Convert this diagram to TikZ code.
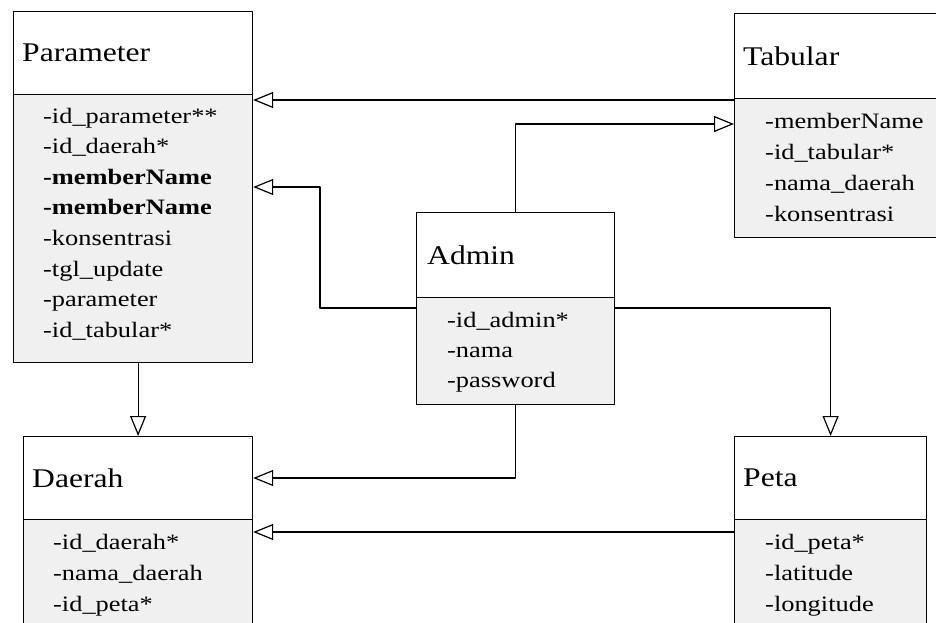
\documentclass[tikz,border=0pt]{standalone}
\usepackage{fontspec}
\setmainfont{Liberation Serif}
\newfontfamily\hdrfont[FakeStretch=1.17]{Liberation Serif}
\newfontfamily\attrfont[FakeStretch=1.2]{Liberation Serif}
\usetikzlibrary{arrows.meta,positioning}
\definecolor{bodygray}{HTML}{F0F0F0}

\begin{document}
\begin{tikzpicture}[x=1pt, y=-1pt, line join=round,
	head/.style={draw, fill=white, line width=1.2pt, anchor=north west, inner sep=0pt},
	body/.style={head, fill=bodygray},
	title/.style={inner sep=0pt, font=\hdrfont\fontsize{27}{27}\selectfont},
	attr/.style={inner sep=0pt, anchor=base west, font=\attrfont\fontsize{22}{22}\selectfont},
	inh/.style={line width=1.2pt, -{Triangle[open, length=20pt, width=16pt]}}]
	\useasboundingbox (0,0) rectangle (936,622);

	% class boxes
	\node[head, minimum width=239pt, minimum height=83pt] (param-head) at (13,11) {};
	\node[body, minimum width=239pt, minimum height=268pt] (param-body) at (13,94) {};
	\node[head, minimum width=215pt, minimum height=85pt] (tab-head) at (734,13) {};
	\node[body, minimum width=215pt, minimum height=139pt] (tab-body) at (734,98) {};
	\node[head, minimum width=198pt, minimum height=85pt] (admin-head) at (416,212) {};
	\node[body, minimum width=198pt, minimum height=107pt] (admin-body) at (416,297) {};
	\node[head, minimum width=229pt, minimum height=83pt] (daerah-head) at (23,436) {};
	\node[body, minimum width=229pt, minimum height=120pt] (daerah-body) at (23,519) {};
	\node[head, minimum width=192pt, minimum height=83pt] (peta-head) at (734,436) {};
	\node[body, minimum width=192pt, minimum height=120pt] (peta-body) at (734,519) {};

	% class names
	\node[title, right=9pt of param-head.west] (param) {Parameter};
	\node[title, right=9pt of tab-head.west] (tab) {Tabular};
	\node[title, right=11pt of admin-head.west] (admin) {Admin};
	\node[title, right=9pt of daerah-head.west] (daerah) {Daerah};
	\node[title, right=9pt of peta-head.west] (peta) {Peta};

	% attributes
	\foreach \t [count=\i] in {-id\_parameter**, -id\_daerah*, \textbf{-memberName}, \textbf{-memberName},
		-konsentrasi, -tgl\_update, -parameter, -id\_tabular*}
		\node[attr] (param-a\i) at ([xshift=30pt, yshift={-29pt-(\i-1)*30.6pt}]param-body.north west) {\t};
	\foreach \t [count=\i] in {-memberName, -id\_tabular*, -nama\_daerah, -konsentrasi}
		\node[attr] (tab-a\i) at ([xshift=31pt, yshift={-30pt-(\i-1)*31pt}]tab-body.north west) {\t};
	\foreach \t [count=\i] in {-id\_admin*, -nama, -password}
		\node[attr] (admin-a\i) at ([xshift=31pt, yshift={-30pt-(\i-1)*30pt}]admin-body.north west) {\t};
	\foreach \t [count=\i] in {-id\_daerah*, -nama\_daerah, -id\_peta*}
		\node[attr] (daerah-a\i) at ([xshift=30pt, yshift={-30pt-(\i-1)*31pt}]daerah-body.north west) {\t};
	\foreach \t [count=\i] in {-id\_peta*, -latitude, -longitude}
		\node[attr] (peta-a\i) at ([xshift=31pt, yshift={-30pt-(\i-1)*31pt}]peta-body.north west) {\t};

	% connectors
	\draw[inh] ([yshift=-2pt]tab-body.north west) -- ([yshift=-6pt]param-body.north east);
	\draw[inh] ([yshift=-11pt]admin-body.north west) -- ++(-96,0) |- ([yshift=-93pt]param-body.north east);
	\draw[inh] (admin-head.north) |- ([yshift=-26pt]tab-body.north west);
	\draw[inh] ([yshift=-11pt]admin-body.north east) -| (peta-head.north);
	\draw[inh] (admin-body.south) |- ([yshift=-42pt]daerah-head.north east);
	\draw[inh] ([yshift=-13pt]peta-body.north west) -- ([yshift=-13pt]daerah-body.north east);
	\draw[inh] (daerah-head.north |- param-body.south) -- (daerah-head.north);
\end{tikzpicture}
\end{document}
